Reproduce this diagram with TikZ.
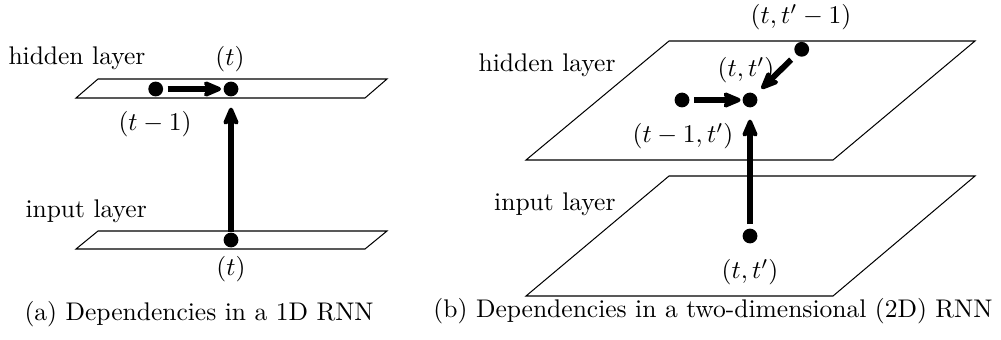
\documentclass[tikz,border=0pt]{standalone}
\usetikzlibrary{arrows.meta}
\begin{document}
\begin{tikzpicture}[x=0.392pt,y=-0.392pt,
  layer/.style={line width=0.4pt, line join=miter},
  dot/.style={circle, fill=black, inner sep=0pt, minimum size=5.8pt},
  dep/.style={line width=2.3pt, -{Stealth[length=9.5pt,width=8pt,inset=3pt,round]}},
  lbl/.style={inner sep=0pt}]
\useasboundingbox (0,0) rectangle (1001,340);

% ---------- (a) 1D RNN ----------
\draw[layer] (76,98) -- (365,98) -- (387,79) -- (98,79) -- cycle;
\draw[layer] (76,249) -- (365,249) -- (387,231) -- (98,231) -- cycle;

\node[dot] (aprev) at (155.7,89) {};
\node[dot] (ah) at (231,89) {};
\node[dot] (ain) at (231,240) {};

\draw[dep, shorten <=1.6pt, shorten >=0.8pt] (aprev) -- (ah);
\draw[dep, shorten <=0pt, shorten >=4.2pt] (ain) -- (ah);

\node[lbl, anchor=base west] (ahl) at (8,65) {hidden layer};
\node[lbl] (aht) at (230,59) {$(t)$};
\node[lbl] (apt) at (155,124) {$(t-1)$};
\node[lbl, anchor=base west] (ail) at (25,217) {input layer};
\node[lbl] (ait) at (231,269) {$(t)$};
\node[lbl, anchor=base west] (acap) at (24,320) {(a) Dependencies in a 1D RNN};

% ---------- (b) 2D RNN ----------
\draw[layer] (526,160) -- (833,160) -- (975,41) -- (669,41) -- cycle;
\draw[layer] (526,296) -- (833,296) -- (975,176) -- (669,176) -- cycle;

\node[dot] (bh) at (750,100) {};
\node[dot] (bleft) at (682,100) {};
\node[dot] (btop) at (801.7,49.3) {};
\node[dot] (bin) at (750,236) {};

\draw[dep, shorten <=1.6pt, shorten >=0.6pt] (bleft) -- (bh);
\draw[dep, shorten <=2.7pt, shorten >=3.2pt] (btop) -- (bh);
\draw[dep, shorten <=1.6pt, shorten >=4.6pt] (bin) -- (bh);

\node[lbl, anchor=base east] (bhl) at (616,72) {hidden layer};
\node[lbl, anchor=base east] (bil) at (616,210) {input layer};
\node[lbl] (btt) at (801,17) {$(t,t'-1)$};
\node[lbl] (bht) at (746,70) {$(t,t')$};
\node[lbl] (blt) at (683,136) {$(t-1,t')$};
\node[lbl] (bit) at (750,272) {$(t,t')$};
\node[lbl, anchor=base east] (bcap) at (993,317) {(b) Dependencies in a two-dimensional (2D) RNN};
\end{tikzpicture}
\end{document}
